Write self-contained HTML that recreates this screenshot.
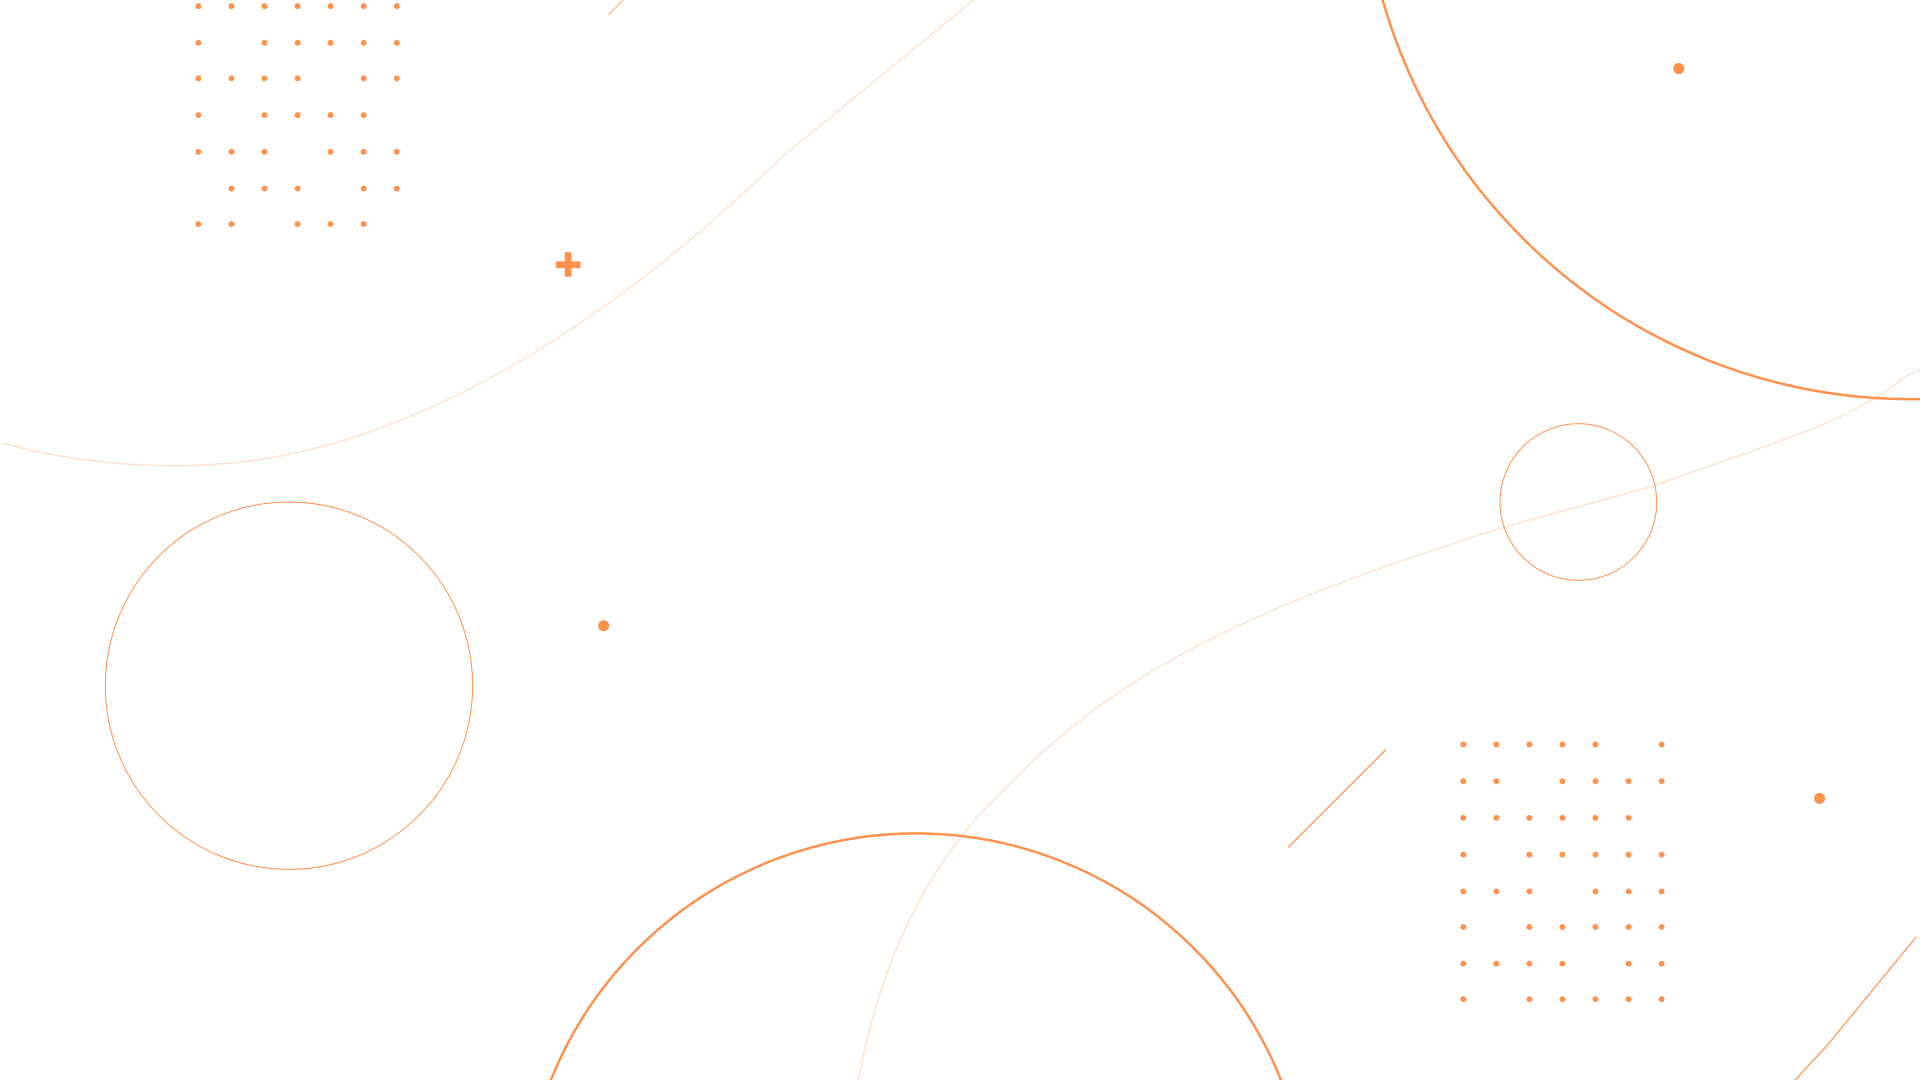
<!DOCTYPE html>
<html><head><meta charset="utf-8"><style>
html,body{margin:0;padding:0;background:#fff;overflow:hidden;width:1920px;height:1080px}
svg{display:block;position:absolute;left:0;top:0}
</style></head><body>
<svg width="1920" height="1080" viewBox="0 0 1568 882" xmlns="http://www.w3.org/2000/svg">
<g fill="none">
<path d="M3,362 C60,378 130,385 200,377 C350,358 500,262 640,127 L795,0" stroke="#fde3d0" stroke-width="1.2"/>
<path d="M701,882 C720,780 760,705 810,655 C900,560 990,505 1230,430 L1350,397 L1460,358 C1500,344 1535,325 1555,308 L1568,302" stroke="#fde3d0" stroke-width="1.2"/>
<circle cx="1561" cy="-123" r="449" stroke="#ff914d" stroke-width="2"/>
<circle cx="236" cy="560" r="150" stroke="#ff914d" stroke-width="0.8"/>
<circle cx="1289" cy="410" r="64" stroke="#ff914d" stroke-width="0.8"/>
<circle cx="748" cy="1002" r="321.4" stroke="#ff914d" stroke-width="2"/>
<line x1="497" y1="12" x2="509" y2="0" stroke="#ffb382" stroke-width="1"/>
<line x1="1052" y1="692" x2="1132" y2="612" stroke="#ff914d" stroke-width="1"/>
<polyline points="1466,882 1492,854 1565,765" stroke="#ff914d" stroke-width="1"/>
</g>
<g fill="#ff914d">
<rect x="454" y="213.5" width="20" height="5.5"/>
<rect x="461.2" y="206" width="5.5" height="20"/>
<circle cx="1371" cy="56" r="4.5"/>
<circle cx="493" cy="511" r="4.5"/>
<circle cx="1486" cy="652" r="4.5"/>
</g>
<g fill="#ff914d">
<circle cx="162" cy="5" r="2.4"/><circle cx="189" cy="5" r="2.4"/><circle cx="216" cy="5" r="2.4"/><circle cx="243" cy="5" r="2.4"/><circle cx="270" cy="5" r="2.4"/><circle cx="297" cy="5" r="2.4"/><circle cx="324" cy="5" r="2.4"/>
<circle cx="162" cy="35" r="2.4"/><circle cx="216" cy="35" r="2.4"/><circle cx="243" cy="35" r="2.4"/><circle cx="270" cy="35" r="2.4"/><circle cx="297" cy="35" r="2.4"/><circle cx="324" cy="35" r="2.4"/>
<circle cx="162" cy="64" r="2.4"/><circle cx="189" cy="64" r="2.4"/><circle cx="216" cy="64" r="2.4"/><circle cx="243" cy="64" r="2.4"/><circle cx="297" cy="64" r="2.4"/><circle cx="324" cy="64" r="2.4"/>
<circle cx="162" cy="94" r="2.4"/><circle cx="216" cy="94" r="2.4"/><circle cx="243" cy="94" r="2.4"/><circle cx="270" cy="94" r="2.4"/><circle cx="297" cy="94" r="2.4"/>
<circle cx="162" cy="124" r="2.4"/><circle cx="189" cy="124" r="2.4"/><circle cx="216" cy="124" r="2.4"/><circle cx="270" cy="124" r="2.4"/><circle cx="297" cy="124" r="2.4"/><circle cx="324" cy="124" r="2.4"/>
<circle cx="189" cy="154" r="2.4"/><circle cx="216" cy="154" r="2.4"/><circle cx="243" cy="154" r="2.4"/><circle cx="297" cy="154" r="2.4"/><circle cx="324" cy="154" r="2.4"/>
<circle cx="162" cy="183" r="2.4"/><circle cx="189" cy="183" r="2.4"/><circle cx="243" cy="183" r="2.4"/><circle cx="270" cy="183" r="2.4"/><circle cx="297" cy="183" r="2.4"/>
<circle cx="1195" cy="608" r="2.4"/><circle cx="1222" cy="608" r="2.4"/><circle cx="1249" cy="608" r="2.4"/><circle cx="1276" cy="608" r="2.4"/><circle cx="1303" cy="608" r="2.4"/><circle cx="1357" cy="608" r="2.4"/>
<circle cx="1195" cy="638" r="2.4"/><circle cx="1222" cy="638" r="2.4"/><circle cx="1276" cy="638" r="2.4"/><circle cx="1303" cy="638" r="2.4"/><circle cx="1330" cy="638" r="2.4"/><circle cx="1357" cy="638" r="2.4"/>
<circle cx="1195" cy="668" r="2.4"/><circle cx="1222" cy="668" r="2.4"/><circle cx="1249" cy="668" r="2.4"/><circle cx="1276" cy="668" r="2.4"/><circle cx="1303" cy="668" r="2.4"/><circle cx="1330" cy="668" r="2.4"/>
<circle cx="1195" cy="698" r="2.4"/><circle cx="1249" cy="698" r="2.4"/><circle cx="1276" cy="698" r="2.4"/><circle cx="1303" cy="698" r="2.4"/><circle cx="1330" cy="698" r="2.4"/><circle cx="1357" cy="698" r="2.4"/>
<circle cx="1195" cy="728" r="2.4"/><circle cx="1222" cy="728" r="2.4"/><circle cx="1249" cy="728" r="2.4"/><circle cx="1303" cy="728" r="2.4"/><circle cx="1330" cy="728" r="2.4"/><circle cx="1357" cy="728" r="2.4"/>
<circle cx="1195" cy="757" r="2.4"/><circle cx="1249" cy="757" r="2.4"/><circle cx="1276" cy="757" r="2.4"/><circle cx="1303" cy="757" r="2.4"/><circle cx="1330" cy="757" r="2.4"/><circle cx="1357" cy="757" r="2.4"/>
<circle cx="1195" cy="787" r="2.4"/><circle cx="1222" cy="787" r="2.4"/><circle cx="1249" cy="787" r="2.4"/><circle cx="1276" cy="787" r="2.4"/><circle cx="1330" cy="787" r="2.4"/><circle cx="1357" cy="787" r="2.4"/>
<circle cx="1195" cy="816" r="2.4"/><circle cx="1249" cy="816" r="2.4"/><circle cx="1276" cy="816" r="2.4"/><circle cx="1303" cy="816" r="2.4"/><circle cx="1330" cy="816" r="2.4"/><circle cx="1357" cy="816" r="2.4"/>
</g>
</svg>
</body></html>
